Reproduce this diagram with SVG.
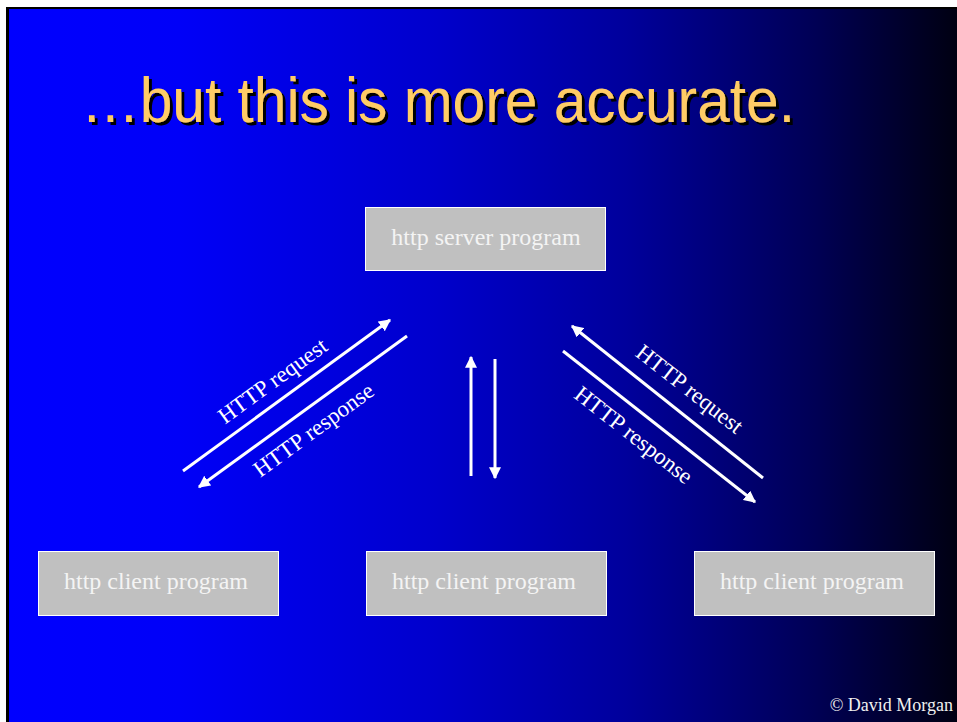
<svg xmlns="http://www.w3.org/2000/svg" width="957" height="722" viewBox="0 0 957 722">
<defs>
<linearGradient id="bg" x1="0" y1="0" x2="1" y2="0">
<stop offset="0" stop-color="#0000FF"/>
<stop offset="0.18" stop-color="#0000F8"/>
<stop offset="0.45" stop-color="#0000CC"/>
<stop offset="0.65" stop-color="#00009C"/>
<stop offset="0.85" stop-color="#000055"/>
<stop offset="1" stop-color="#000012"/>
</linearGradient>
<filter id="shadow" x="-5%" y="-20%" width="110%" height="140%">
<feFlood flood-color="#000000"/>
<feComposite in2="SourceAlpha" operator="in"/>
<feOffset dx="3" dy="3" result="sh"/>
<feMerge><feMergeNode in="sh"/><feMergeNode in="SourceGraphic"/></feMerge>
</filter>
<marker id="ah" viewBox="0 0 10 10" refX="9" refY="5" markerWidth="4" markerHeight="4" orient="auto" markerUnits="strokeWidth">
<path d="M0,0 L10,5 L0,10 Z" fill="#FFFFFF"/>
</marker>
<style>
.box{fill:#C0C0C0;stroke:#FFFFFF;stroke-width:1}
.lbl{font-family:"Liberation Serif","Times New Roman",serif;font-size:24px;fill:#F4F4F4;text-anchor:middle}
.arr{stroke:#FFFFFF;stroke-width:3;fill:none}
.al{font-family:"Liberation Serif","Times New Roman",serif;font-size:23px;fill:#FFFFFF;text-anchor:middle}
</style>
</defs>
<rect x="0" y="0" width="957" height="722" fill="#FFFFFF"/>
<rect x="6" y="7" width="951" height="715" fill="#000000"/>
<rect x="9" y="9" width="948" height="713" fill="url(#bg)"/>
<g id="title">
<text x="81" y="122" font-family="'Liberation Sans',Arial,sans-serif" font-size="63" fill="#FFCC66" textLength="714" lengthAdjust="spacingAndGlyphs" filter="url(#shadow)">…but this is more accurate.</text>
</g>
<g id="server">
<rect class="box" x="365.5" y="207.5" width="240" height="63"/>
<text class="lbl" x="486" y="245">http server program</text>
</g>
<g id="client1">
<rect class="box" x="38.5" y="551.5" width="240" height="64"/>
<text class="lbl" x="156" y="589">http client program</text>
</g>
<g id="client2">
<rect class="box" x="366.5" y="551.5" width="240" height="64"/>
<text class="lbl" x="484" y="589">http client program</text>
</g>
<g id="client3">
<rect class="box" x="694.5" y="551.5" width="240" height="64"/>
<text class="lbl" x="812" y="589">http client program</text>
</g>
<g id="connectors">
<line class="arr" x1="183" y1="471" x2="390" y2="320" marker-end="url(#ah)"/>
<line class="arr" x1="407" y1="336" x2="199" y2="487" marker-end="url(#ah)"/>
<line class="arr" x1="763" y1="478" x2="572" y2="326" marker-end="url(#ah)"/>
<line class="arr" x1="563" y1="351" x2="755" y2="502" marker-end="url(#ah)"/>
<line class="arr" x1="471" y1="476" x2="471" y2="357" marker-end="url(#ah)"/>
<line class="arr" x1="495" y1="359" x2="495" y2="478" marker-end="url(#ah)"/>
<text class="al" transform="translate(277,387) rotate(-36)">HTTP request</text>
<text class="al" transform="translate(318,436) rotate(-36)">HTTP response</text>
<text class="al" transform="translate(685,395) rotate(38)">HTTP request</text>
<text class="al" transform="translate(629,441) rotate(38)">HTTP response</text>
</g>
<text x="953" y="711" font-family="'Liberation Serif','Times New Roman',serif" font-size="18" fill="#F0F0F0" text-anchor="end">© David Morgan</text>
</svg>
